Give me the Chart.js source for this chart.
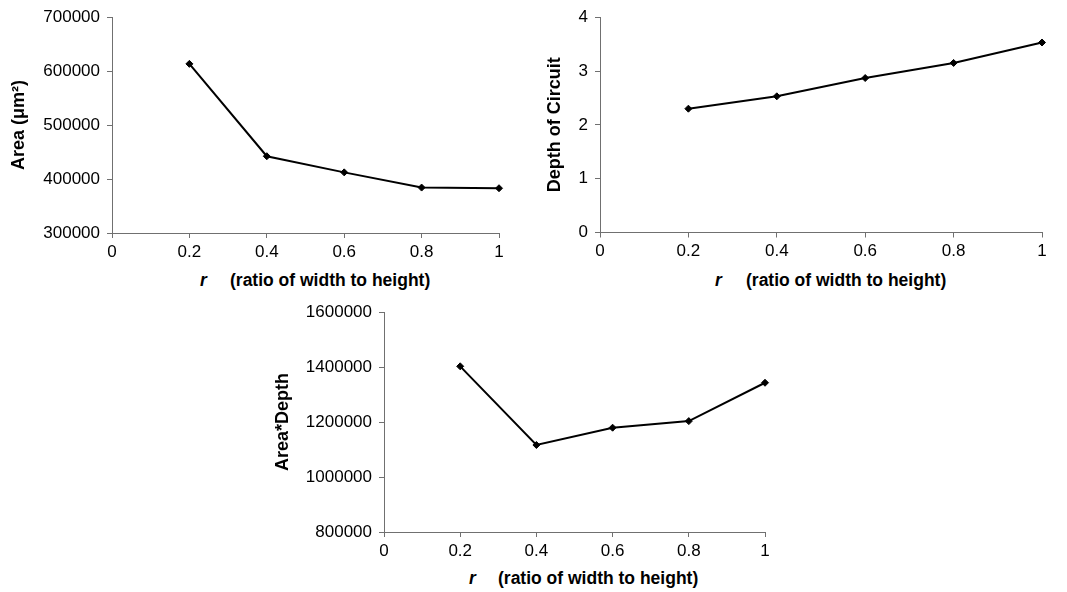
<!DOCTYPE html>
<html><head><meta charset="utf-8">
<script src="https://cdn.jsdelivr.net/npm/chart.js@4.4.1/dist/chart.umd.min.js"></script>
<style>
html,body{margin:0;padding:0;background:#fff;width:1067px;height:592px;overflow:hidden;position:relative;font-family:"Liberation Sans",Arial,sans-serif;}
canvas{position:absolute;}
.xt{position:absolute;font-weight:bold;font-size:17.5px;line-height:20px;color:#000;white-space:nowrap;}
.xt i{font-style:italic;}
</style></head><body>
<canvas id="c1" width="530" height="265" style="left:0;top:0"></canvas>
<canvas id="c2" width="537" height="265" style="left:530px;top:0"></canvas>
<canvas id="c3" width="540" height="270" style="left:260px;top:295px"></canvas>
<div class="xt" style="left:200px;top:270px"><i>r</i></div>
<div class="xt" style="left:230px;top:270px">(ratio of width to height)</div>
<div class="xt" style="left:715px;top:270px"><i>r</i></div>
<div class="xt" style="left:746px;top:270px">(ratio of width to height)</div>
<div class="xt" style="left:469px;top:568px"><i>r</i></div>
<div class="xt" style="left:498px;top:568px">(ratio of width to height)</div>
<script>
const ratios = [0.2, 0.4, 0.6, 0.8, 1.0];
const areaValues = [613500, 442300, 412400, 384200, 383000];
const depthValues = [2.30, 2.53, 2.87, 3.15, 3.53];
const areaDepthValues = [1403000, 1116600, 1179600, 1203600, 1343200];
const areaTicks = [300000, 700000, 100000];
const depthTicks = [0, 4, 1];
const areaDepthTicks = [800000, 1600000, 200000];
const xTicks = [0, 1, 0.2];

const FONT = "'Liberation Sans', Arial, sans-serif";

function makeChart(id, values, yRange, yTitle, pad, yWidth, xHeight) {
  const pts = ratios.map((r, i) => ({x: r, y: values[i]}));
  return new Chart(document.getElementById(id), {
    type: 'scatter',
    data: {datasets: [{
      data: pts, showLine: true, borderColor: '#000', borderWidth: 2, clip: false,
      pointStyle: 'rectRot', pointRadius: 3.5, pointBackgroundColor: '#000',
      pointBorderColor: '#000', pointBorderWidth: 1, tension: 0
    }]},
    options: {
      responsive: false, animation: false, devicePixelRatio: 1,
      layout: {padding: pad},
      plugins: {legend: {display: false}, tooltip: {enabled: false}},
      scales: {
        x: {
          type: 'linear', min: xTicks[0], max: xTicks[1],
          afterFit: s => { s.height = xHeight; },
          grid: {drawOnChartArea: false, drawTicks: true, tickLength: 5, color: '#707070', lineWidth: 1},
          border: {color: '#707070', width: 1},
          ticks: {stepSize: xTicks[2], padding: 4, color: '#000', font: {family: FONT, size: 17},
                  maxRotation: 0, callback: v => String(Math.round(v * 10) / 10)}
        },
        y: {
          min: yRange[0], max: yRange[1],
          afterFit: s => { s.width = yWidth; },
          grid: {drawOnChartArea: false, drawTicks: true, tickLength: 5, color: '#707070', lineWidth: 1},
          border: {color: '#707070', width: 1},
          ticks: {stepSize: yRange[2], padding: 7, color: '#000', font: {family: FONT, size: 17},
                  callback: v => String(v)},
          title: {display: true, text: yTitle, color: '#000', padding: 0,
                  font: {family: FONT, size: 18, weight: 'bold', lineHeight: 1.2}}
        }
      }
    }
  });
}

makeChart('c1', areaValues, areaTicks, 'Area (\u03bcm\u00b2)', {left: 8, top: 9, right: 31, bottom: 0}, 104, 32);
makeChart('c2', depthValues, depthTicks, 'Depth of Circuit', {left: 14, top: 9, right: 25, bottom: 0}, 56, 32.5);
makeChart('c3', areaDepthValues, areaDepthTicks, 'Area*Depth', {left: 12, top: 13, right: 35, bottom: 0}, 112, 33);
</script>
</body></html>
